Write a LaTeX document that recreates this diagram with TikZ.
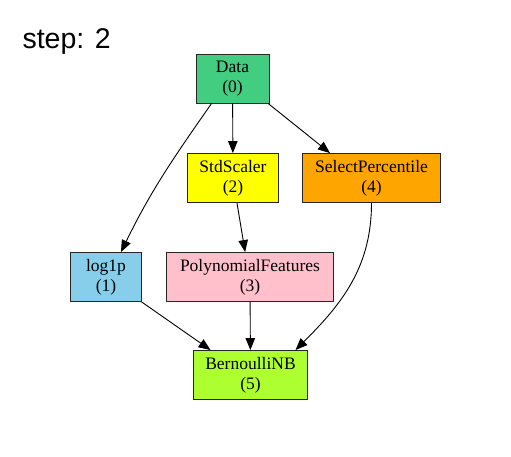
\documentclass[tikz,border=0pt]{standalone}
\usepackage{fontspec}
\setmainfont{Liberation Serif}
\newfontfamily\titlefont{Liberation Sans}
\usetikzlibrary{arrows.meta,positioning}
\definecolor{datagreen}{HTML}{43CD80}
\definecolor{stdyellow}{HTML}{FFFF00}
\definecolor{selorange}{HTML}{FFA500}
\definecolor{logblue}{HTML}{87CEEB}
\definecolor{polypink}{HTML}{FFC0CB}
\definecolor{nbgreen}{HTML}{ADFF2F}
\tikzset{
  stage/.style={rectangle,draw=black!85,line width=0.9pt,align=center,inner sep=0pt,minimum height=49pt,font=\fontsize{17.5}{20}\selectfont},
  edge/.style={-{Triangle[length=12pt,width=9.5pt]},line width=0.9pt,black}
}

\begin{document}
\begin{tikzpicture}[x=1pt,y=-1pt]
    \useasboundingbox (0,0) rectangle (511,456);
    \node[anchor=west,font=\titlefont\fontsize{28.5}{28.5}\selectfont] (title) at (19,42) {step: 2};
    \node[stage,fill=datagreen,minimum width=73pt] (data) at (232.5,78.5) {Data\\(0)};
    \node[stage,fill=stdyellow,minimum width=91pt] (std) at (233,178) {StdScaler\\(2)};
    \node[stage,fill=selorange,minimum width=138pt] (sel) at (371.5,178) {SelectPercentile\\(4)};
    \node[stage,fill=logblue,minimum width=71pt] (log) at (106,277) {log1p\\(1)};
    \node[stage,fill=polypink,minimum width=167pt] (poly) at (250,277) {PolynomialFeatures\\(3)};
    \node[stage,fill=nbgreen,minimum width=114pt] (nb) at (250.5,375) {BernoulliNB\\(5)};
    \draw[edge] (data.-130) to[out=-125,in=64] (log.59);
    \draw[edge] (data) -- (std);
    \draw[edge] (data.-35) -- (sel.149);
    \draw[edge] (std.-81) -- (poly.101);
    \draw[edge] (sel.south) to[out=-90,in=45] (nb.29);
    \draw[edge] (log.-35) -- (nb.148);
    \draw[edge] (poly) -- (nb);
  \end{tikzpicture}
\end{document}
